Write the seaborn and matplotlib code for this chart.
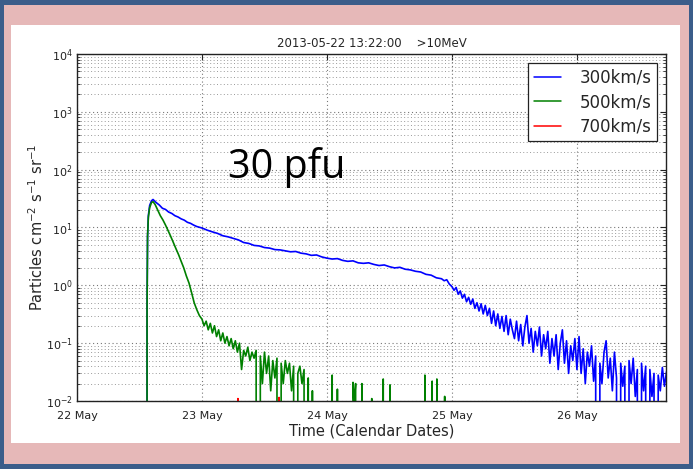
import numpy as np
import pandas as pd
import matplotlib
matplotlib.use('Agg')
import matplotlib.pyplot as plt
import matplotlib.dates as mdates
from matplotlib.patches import Rectangle
from matplotlib.ticker import LogLocator, NullFormatter
import seaborn as sns

# ---------------- data (hours since 2013-05-22 00:00 UT, flux in pfu) ----------------
start = pd.Timestamp('2013-05-22 00:00:00')
title_text = '2013-05-22 13:22:00    >10MeV'
annotation_text = '30 pfu'
series_names = ['300km/s', '500km/s', '700km/s']
series_colors = ['#0000ff', '#008000', '#ff0000']

blue_hours = [13.37, 13.45, 13.55, 13.7, 13.95, 14.3, 14.6, 15.2, 15.8, 16.4, 17.0, 17.6,
              18.2, 18.8, 19.4, 20.0, 20.6, 21.2, 21.8, 22.4, 23.0, 24.0, 25.0, 26.0,
              27.0, 28.0, 29.0, 30.0, 31.0, 32.0, 33.0, 34.0, 35.0, 36.0, 37.0, 38.0,
              39.0, 40.0, 41.0, 42.0, 43.0, 44.0, 45.0, 46.0, 47.0, 48.0, 49.0, 50.0,
              51.0, 52.0, 53.0, 54.0, 55.0, 56.0, 57.0, 58.0, 59.0, 60.0, 61.0, 62.0,
              63.0, 64.0, 65.0, 66.0, 67.0, 68.0, 69.0, 70.0, 70.5, 71.0, 71.5,
              72.0, 72.4, 72.8, 73.2, 73.6, 74.0, 74.4, 74.8, 75.2, 75.6, 76.0, 76.4,
              76.8, 77.2, 77.6, 78.0, 78.4, 78.8, 79.2, 79.6, 80.0, 80.4, 80.8, 81.2,
              81.6, 82.0, 82.4, 82.8, 83.2, 83.6, 84.0, 84.4, 84.8, 85.2, 85.6, 86.0,
              86.4, 86.8, 87.2, 87.6, 88.0, 88.4, 88.8, 89.2, 89.6, 90.0, 90.4, 90.8,
              91.2, 91.6, 92.0, 92.4, 92.8, 93.2, 93.6, 94.0, 94.4, 94.8, 95.2, 95.6,
              96.0, 96.4, 96.8, 97.2, 97.6, 98.0, 98.4, 98.8, 99.2, 99.6, 100.0, 100.4,
              100.8, 101.2, 101.6, 102.0, 102.4, 102.8, 103.2, 103.6, 104.0, 104.4, 104.8,
              105.2, 105.6, 106.0, 106.4, 106.8, 107.2, 107.6, 108.0, 108.4, 108.8, 109.2,
              109.6, 110.0, 110.4, 110.8, 111.2, 111.6, 112.0, 112.4, 112.8, 113.2]
blue_flux = [0, 0.4, 7, 16, 24, 29, 30.5, 27, 24.5, 21.5, 20.5, 18.5,
             17.5, 16, 15.2, 14.1, 13.4, 12.3, 11.8, 11.0, 10.4, 9.8, 9.0, 8.4,
             7.9, 7.2, 6.9, 6.5, 6.1, 5.5, 5.3, 4.9, 4.8, 4.5, 4.4, 4.15,
             4.1, 3.95, 3.8, 3.85, 3.6, 3.5, 3.3, 3.35, 3.1, 2.95, 2.85, 2.9,
             2.7, 2.6, 2.65, 2.45, 2.4, 2.45, 2.3, 2.2, 2.25, 2.1, 2.0, 2.05,
             1.9, 1.85, 1.75, 1.7, 1.55, 1.5, 1.35, 1.3, 1.2, 1.25, 1.05,
             0.95, 0.82, 0.92, 0.7, 0.8, 0.6, 0.7, 0.52, 0.62, 0.47, 0.58, 0.4,
             0.5, 0.36, 0.48, 0.32, 0.45, 0.3, 0.4, 0.22, 0.36, 0.2, 0.32, 0.18,
             0.29, 0.16, 0.3, 0.14, 0.26, 0.17, 0.12, 0.24, 0.11, 0.21, 0.09, 0.19,
             0.3, 0.1, 0.18, 0.07, 0.16, 0.09, 0.19, 0.06, 0.14, 0.08, 0.16, 0.045,
             0.12, 0.06, 0.14, 0.035, 0.1, 0.17, 0.045, 0.11, 0.03, 0.09, 0.05, 0.12,
             0.035, 0.13, 0.03, 0.08, 0.02, 0.07, 0.04, 0.09, 0.022, 0.06, 0, 0.045,
             0.02, 0.07, 0.11, 0.025, 0.055, 0.015, 0.07, 0.025, 0, 0.045, 0.018,
             0.04, 0, 0.05, 0.02, 0.055, 0.012, 0.035, 0, 0.045, 0.015, 0.04,
             0, 0.035, 0.012, 0.03, 0, 0.028, 0.015, 0.038, 0.018, 0.032]

green_hours = [13.37, 13.45, 13.55, 13.7, 13.95, 14.3, 14.6, 15.0, 15.5, 16.0, 16.5, 17.0,
               17.5, 18.0, 18.5, 19.0, 19.5, 20.0, 20.5, 21.0, 21.5, 22.0, 22.5, 23.0,
               23.5, 24.0, 24.4, 24.8, 25.2, 25.6, 26.0, 26.4, 26.8, 27.2, 27.6, 28.0,
               28.4, 28.8, 29.2, 29.6, 30.0, 30.4, 30.8, 31.2, 31.6, 32.0, 32.4, 32.8,
               33.2, 33.6, 34.0, 34.4, 34.8, 35.2, 35.6, 36.0, 36.4, 36.8, 37.2, 37.6,
               38.0, 38.4, 38.8, 39.2, 39.6, 40.0, 40.4, 40.8, 41.2, 41.6, 42.0, 42.4,
               42.8, 43.2, 43.6, 44.0, 44.4, 44.8, 45.2, 45.6,
               48.8, 49.0, 49.2, 49.8, 50.0, 50.2, 52.8, 53.0, 53.2, 53.5, 53.7,
               54.5, 54.7, 54.9, 56.4, 56.6, 56.8, 58.6, 58.8, 59.0, 59.9, 60.1, 60.3,
               66.6, 66.8, 67.0, 68.0, 68.2, 68.4, 68.9, 69.1, 69.3, 70.4, 70.6, 70.8,
               113.2]
green_flux = [0, 0.4, 7, 15, 22, 27, 28, 25, 20, 16, 13.5, 11,
              8.8, 7.0, 5.5, 4.3, 3.4, 2.6, 2.0, 1.45, 1.1, 0.75, 0.5, 0.38,
              0.3, 0.26, 0.2, 0.24, 0.17, 0.22, 0.15, 0.2, 0.13, 0.17, 0.11, 0.15,
              0.1, 0.13, 0.09, 0.12, 0.08, 0.11, 0.07, 0.1, 0.035, 0.075, 0.06, 0.085,
              0.05, 0.07, 0.055, 0.075, 0, 0.06, 0.02, 0.07, 0.03, 0.06, 0.015, 0.05,
              0.025, 0.055, 0, 0.045, 0.02, 0.05, 0.03, 0.045, 0.015, 0.04, 0, 0.03,
              0.04, 0.02, 0.035, 0, 0.025, 0, 0.015, 0,
              0, 0.028, 0, 0, 0.016, 0, 0, 0.021, 0.008, 0.02, 0,
              0, 0.02, 0, 0, 0.011, 0, 0, 0.024, 0, 0, 0.019, 0,
              0, 0.028, 0, 0, 0.022, 0, 0, 0.024, 0, 0, 0.012, 0,
              0]

red_hours = [13.37, 30.7, 30.9, 31.1, 38.6, 38.8, 39.0, 113.2]
red_flux = [0, 0, 0.011, 0, 0, 0.0115, 0, 0]

x_end_hours = 113.1

# ---------------- build table ----------------
frames = []
for name, hrs, flux in zip(series_names, [blue_hours, green_hours, red_hours],
                           [blue_flux, green_flux, red_flux]):
    frames.append(pd.DataFrame({'time': start + pd.to_timedelta(hrs, unit='h'),
                                'flux': flux, 'speed': name}))
df = pd.concat(frames, ignore_index=True)

sns.set_style('white')
plt.rcParams['font.family'] = ['DejaVu Sans']
plt.rcParams['mathtext.default'] = 'regular'

W, H = 693, 469
fig = plt.figure(figsize=(W / 100, H / 100), dpi=100, facecolor='#3b5d8a')
fig.patches.append(Rectangle((4 / W, 5 / H), (689 - 4) / W, (464 - 5) / H,
                             transform=fig.transFigure, facecolor='#e6b8b8',
                             edgecolor='none', zorder=-10))
fig.patches.append(Rectangle((11 / W, (H - 443) / H), (680 - 11) / W, (443 - 25) / H,
                             transform=fig.transFigure, facecolor='white',
                             edgecolor='none', zorder=-9))

ax = fig.add_axes([77 / W, (H - 401) / H, (666 - 77) / W, (401 - 54) / H])
ax.set_facecolor('white')

sns.lineplot(data=df, x='time', y='flux', hue='speed', hue_order=series_names,
             palette=dict(zip(series_names, series_colors)), estimator=None,
             linewidth=1.2, ax=ax, legend=True)

ax.set_yscale('log', nonpositive='clip')
ax.set_ylim(1e-2, 1e4)
ax.set_xlim(start, start + pd.Timedelta(hours=x_end_hours))

ax.xaxis.set_major_locator(mdates.DayLocator())
ax.xaxis.set_major_formatter(mdates.DateFormatter('%d %b'))
ax.yaxis.set_major_locator(LogLocator(base=10, numticks=12))
ax.yaxis.set_minor_locator(LogLocator(base=10, subs=np.arange(2, 10), numticks=60))
ax.yaxis.set_minor_formatter(NullFormatter())

ax.grid(True, which='major', axis='both', linestyle=(0, (1, 2.5)), color='#777777', linewidth=0.8)
ax.grid(True, which='minor', axis='y', linestyle=(0, (1, 2.5)), color='#999999', linewidth=0.7)

for sp in ax.spines.values():
    sp.set_color('#222222')
    sp.set_linewidth(1.0)
    sp.set_visible(True)

ax.tick_params(axis='both', which='major', direction='in', length=4, width=0.8,
               top=True, right=True, labelsize=8, colors='#222222')
ax.tick_params(axis='y', which='minor', direction='in', length=2, width=0.6,
               left=True, right=True)
ax.tick_params(axis='x', pad=7)
ax.tick_params(axis='y', pad=3)

ax.set_xlabel('Time (Calendar Dates)', fontsize=10.5, labelpad=2)
ax.set_ylabel('Particles cm$^{-2}$ s$^{-1}$ sr$^{-1}$', fontsize=10.5)
ax.yaxis.set_label_coords((46 - 77) / (666 - 77), 0.5)
ax.set_title(title_text, fontsize=8.5, pad=5)

handles, labels = ax.get_legend_handles_labels()
leg = ax.legend(handles, labels, loc='upper right', bbox_to_anchor=(0.985, 0.974),
                borderaxespad=0, fontsize=12, frameon=True, fancybox=False,
                edgecolor='#222222', framealpha=1, handlelength=1.6,
                handletextpad=1.1, labelspacing=0.38, borderpad=0.35)
leg.get_frame().set_linewidth(0.9)
for line in leg.get_lines():
    line.set_linewidth(1.1)

fig.text(228 / W, 1 - 178 / H, annotation_text, fontsize=28.5, family=['Open Sans'],
         color='black', va='baseline', ha='left')

fig.savefig('out.png', dpi=100, facecolor=fig.get_facecolor())
